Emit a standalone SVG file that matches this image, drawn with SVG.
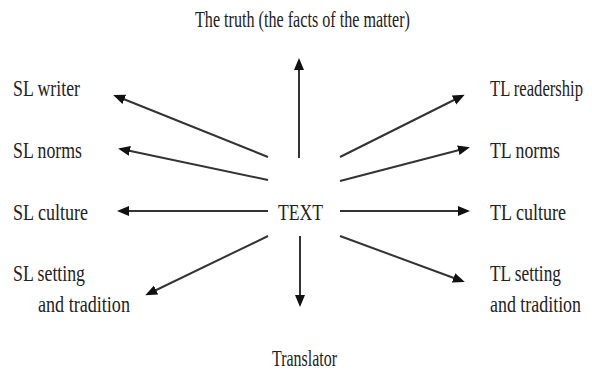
<svg xmlns="http://www.w3.org/2000/svg" width="592" height="375" viewBox="0 0 592 375">
<style>
text{font-family:"Liberation Serif","Times New Roman",serif;font-size:23px;fill:#222}
.c line{stroke:#333;stroke-width:2;marker-end:url(#ah)}
</style>
<defs>
<marker id="ah" markerUnits="userSpaceOnUse" markerWidth="14" markerHeight="12" viewBox="0 0 14 12" refX="9" refY="5" orient="auto">
<path d="M0,0 L12,5 L0,10 z" fill="#111"/>
</marker>
</defs>
<rect width="592" height="375" fill="#fff"/>
<g class="c" id="connectors">
<line x1="299" y1="158" x2="299" y2="61"/>
<line x1="300" y1="236" x2="300" y2="304"/>
<line x1="268" y1="157" x2="116" y2="96"/>
<line x1="268" y1="180" x2="121" y2="149"/>
<line x1="268" y1="211" x2="120" y2="211"/>
<line x1="268" y1="236" x2="148" y2="294"/>
<line x1="340" y1="157" x2="462" y2="96"/>
<line x1="340" y1="181" x2="467" y2="148"/>
<line x1="340" y1="211" x2="467" y2="211"/>
<line x1="340" y1="236" x2="462" y2="281"/>
</g>
<g id="truth"><text transform="translate(195,27) scale(.74,1)" textLength="290.5" lengthAdjust="spacingAndGlyphs">The truth (the facts of the matter)</text></g>
<g id="text"><text transform="translate(278,220) scale(.74,1)" textLength="60.8" lengthAdjust="spacingAndGlyphs">TEXT</text></g>
<g id="translator"><text transform="translate(272,366) scale(.74,1)" textLength="87.8" lengthAdjust="spacingAndGlyphs">Translator</text></g>
<g id="sl-writer"><text transform="translate(13,96) scale(.74,1)" textLength="90.5" lengthAdjust="spacingAndGlyphs">SL writer</text></g>
<g id="sl-norms"><text transform="translate(13,158) scale(.74,1)" textLength="93.2" lengthAdjust="spacingAndGlyphs">SL norms</text></g>
<g id="sl-culture"><text transform="translate(13,220) scale(.74,1)" textLength="101.4" lengthAdjust="spacingAndGlyphs">SL culture</text></g>
<g id="sl-setting"><text transform="translate(13,281) scale(.74,1)" textLength="97.3" lengthAdjust="spacingAndGlyphs">SL setting</text><text transform="translate(38,312) scale(.74,1)" textLength="124.3" lengthAdjust="spacingAndGlyphs">and tradition</text></g>
<g id="tl-readership"><text transform="translate(490,96) scale(.74,1)" textLength="125.7" lengthAdjust="spacingAndGlyphs">TL readership</text></g>
<g id="tl-norms"><text transform="translate(490,158) scale(.74,1)" textLength="94.6" lengthAdjust="spacingAndGlyphs">TL norms</text></g>
<g id="tl-culture"><text transform="translate(490,220) scale(.74,1)" textLength="102.7" lengthAdjust="spacingAndGlyphs">TL culture</text></g>
<g id="tl-setting"><text transform="translate(490,281) scale(.74,1)" textLength="95.9" lengthAdjust="spacingAndGlyphs">TL setting</text><text transform="translate(490,312) scale(.74,1)" textLength="123" lengthAdjust="spacingAndGlyphs">and tradition</text></g>
</svg>
